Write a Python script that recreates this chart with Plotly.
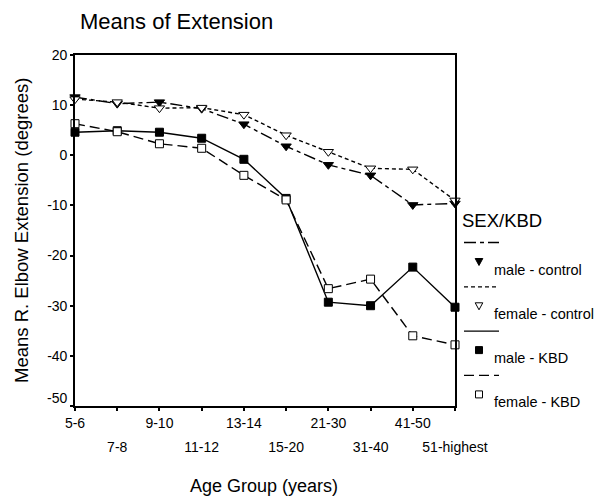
import plotly.graph_objects as go

# Age groups on the x axis
age_groups = ["5-6", "7-8", "9-10", "11-12", "13-14", "15-20",
              "21-30", "31-40", "41-50", "51-highest"]

# Mean right elbow extension (degrees) per group
male_control = [11.6, 10.3, 10.6, 9.3, 6.2, 1.8, -1.9, -4.0, -9.9, -9.6]
female_control = [11.2, 10.6, 9.4, 9.5, 8.1, 4.0, 0.7, -2.6, -2.8, -9.0]
male_kbd = [4.6, 4.9, 4.6, 3.4, -0.8, -8.6, -29.3, -30.0, -22.3, -30.3]
female_kbd = [6.3, 4.7, 2.3, 1.4, -4.0, -8.9, -26.6, -24.7, -36.0, -37.8]

y_ticks = [20, 10, 0, -10, -20, -30, -40, -50]

FONT = "Arial, Liberation Sans, sans-serif"

# name, values, marker symbol, marker fill, line dash
series = [
    ("male - control", male_control, "triangle-down", "black", "12px,4px,4px,4px"),
    ("female - control", female_control, "triangle-down", "white", "4px,3px"),
    ("male - KBD", male_kbd, "square", "black", "solid"),
    ("female - KBD", female_kbd, "square", "white", "10px,5px"),
]

# pixel outlines for the legend glyphs (y up)
glyph_paths = {
    "triangle-down": "M -3.8 3 L 3.8 3 L 0 -4 Z",
    "square": "M -3.5 -3.5 L 3.5 -3.5 L 3.5 3.5 L -3.5 3.5 Z",
}

W, H = 611, 499
ML, MR, MT, MB = 75, 156, 55, 93
plot_w = W - ML - MR
plot_h = H - MT - MB


def px(x):
    return (x - ML) / plot_w


def py(y):
    return (H - MB - y) / plot_h


idx = list(range(len(age_groups)))

fig = go.Figure()
for name, vals, sym, fill, dash in series:
    fig.add_trace(go.Scatter(
        x=idx, y=vals, name=name, mode="lines+markers",
        line=dict(color="black", width=1.4, dash=dash),
        marker=dict(symbol=sym, size=9 if "triangle" in sym else 8,
                    color=fill, line=dict(color="black", width=1)),
        cliponaxis=False, showlegend=False,
    ))

# second row of category labels lives on an overlaying axis
fig.add_trace(go.Scatter(x=idx[1::2], y=[None] * len(idx[1::2]),
                         xaxis="x2", yaxis="y", showlegend=False,
                         hoverinfo="skip", mode="markers"))

# legend panel to the right of the plot
leg_x0, leg_x1 = 464, 499
leg_line_y0, leg_step = 242.5, 44.3
for i, (name, vals, sym, fill, dash) in enumerate(series):
    ly = leg_line_y0 + leg_step * i
    fig.add_shape(type="line", xref="paper", yref="paper",
                  x0=px(leg_x0), x1=px(leg_x1), y0=py(ly), y1=py(ly),
                  line=dict(color="black", width=1.3, dash=dash))
    fig.add_shape(type="path", xref="paper", yref="paper",
                  xsizemode="pixel", ysizemode="pixel",
                  xanchor=px(479), yanchor=py(ly + 19),
                  path=glyph_paths[sym], fillcolor=fill,
                  line=dict(color="black", width=1))
    fig.add_annotation(x=px(492), y=py(ly + 27), xref="paper", yref="paper",
                       text=name, showarrow=False, xanchor="left",
                       yanchor="middle",
                       font=dict(size=14.5, family=FONT, color="black"))

fig.add_annotation(x=px(460), y=py(221), xref="paper", yref="paper",
                   text="SEX/KBD", showarrow=False, xanchor="left",
                   yanchor="middle", font=dict(size=18.5, family=FONT, color="black"))

# the bottom y label sits a little above its tick
fig.add_annotation(x=px(69), y=py(397.5), xref="paper", yref="paper",
                   text=str(y_ticks[-1]), showarrow=False, xanchor="right",
                   yanchor="middle", font=dict(size=14, family=FONT, color="black"))

# axis titles
fig.add_annotation(x=px(22), y=py(231), xref="paper", yref="paper",
                   text="Means R. Elbow Extension (degrees)", textangle=-90,
                   showarrow=False, xanchor="center", yanchor="middle",
                   font=dict(size=18.5, family=FONT, color="black"))
fig.add_annotation(x=px(264), y=py(486), xref="paper", yref="paper",
                   text="Age Group (years)",
                   showarrow=False, xanchor="center", yanchor="middle",
                   font=dict(size=18, family=FONT, color="black"))

axis_common = dict(showgrid=False, zeroline=False, color="black",
                   tickfont=dict(size=14, family=FONT, color="black"))

fig.update_layout(
    width=W, height=H,
    margin=dict(l=ML, r=MR, t=MT, b=MB, pad=0),
    paper_bgcolor="white", plot_bgcolor="white",
    showlegend=False,
    font=dict(family=FONT, color="black"),
    title=dict(text="Means of Extension", x=px(80), xref="paper",
               xanchor="left", y=1 - 21 / H, yref="container", yanchor="middle",
               font=dict(size=22, family=FONT, color="black")),
    xaxis=dict(range=[0, 9], tickvals=idx,
               ticktext=[g if i % 2 == 0 else "" for i, g in enumerate(age_groups)],
               ticks="outside", ticklen=3, tickwidth=1.5, tickcolor="black",
               showline=True, linecolor="black", linewidth=1.6, mirror=True,
               **axis_common),
    xaxis2=dict(range=[0, 9], overlaying="x", anchor="y",
                side="bottom", tickvals=idx[1::2], ticktext=age_groups[1::2],
                ticks="", showline=False, ticklabelstandoff=31, **axis_common),
    yaxis=dict(range=[-50, 20], tickvals=y_ticks,
               ticktext=[str(v) if v != y_ticks[-1] else "" for v in y_ticks],
               ticks="outside", ticklen=3,
               tickwidth=1.5, tickcolor="black", showline=True,
               linecolor="black", linewidth=1.6, mirror=True, **axis_common),
)

fig.write_html("out.html")
